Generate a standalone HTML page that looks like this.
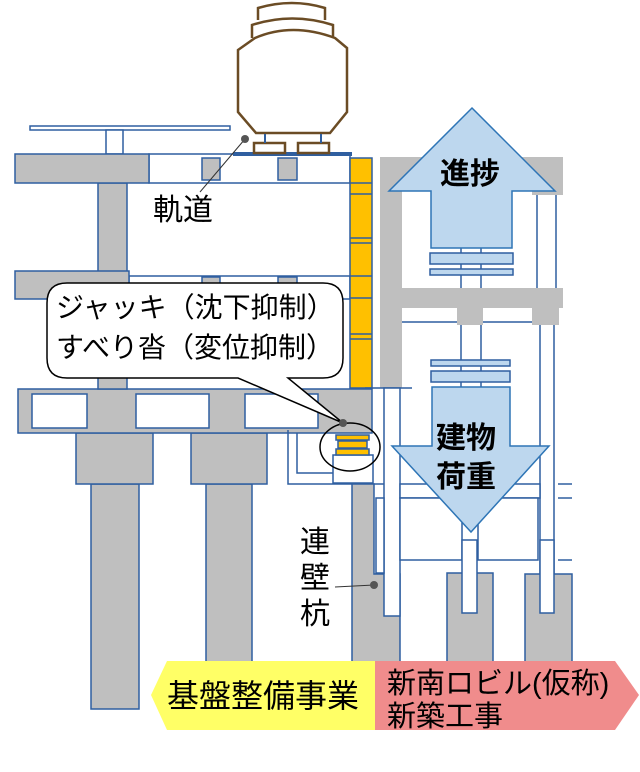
<!DOCTYPE html>
<html><head><meta charset="utf-8"><style>
html,body{margin:0;padding:0;background:#fff;}
svg{display:block;}
text{font-family:"Liberation Sans","Noto Sans CJK JP",sans-serif;fill:#000;}
</style></head><body>
<svg width="640" height="772" viewBox="0 0 640 772" xmlns="http://www.w3.org/2000/svg">
<g stroke="#2f5fa0" stroke-width="1.5">
<rect x="91" y="484" width="48" height="225" fill="#bfbfbf"/>
<rect x="206" y="484" width="46" height="178" fill="#bfbfbf"/>
<rect x="76" y="433" width="77" height="51" fill="#bfbfbf"/>
<rect x="191" y="433" width="76" height="51" fill="#bfbfbf"/>
<rect x="18" y="389" width="354" height="44" fill="#bfbfbf"/>
<rect x="32" y="394" width="55" height="34" fill="#fff"/>
<rect x="136" y="394" width="73" height="34" fill="#fff"/>
<rect x="245" y="394" width="73" height="34" fill="#fff"/>
<rect x="98" y="183" width="29" height="206" fill="#bfbfbf"/>
<rect x="30" y="126" width="200" height="4" fill="#fff"/>
<rect x="106" y="130" width="17" height="24" fill="#fff"/>
<rect x="149" y="154" width="201" height="29" fill="#fff"/>
<rect x="202" y="158" width="18" height="22" fill="#bfbfbf"/>
<rect x="278" y="158" width="19" height="22" fill="#bfbfbf"/>
<rect x="15" y="154" width="134" height="29" fill="#bfbfbf"/>
<rect x="129" y="276" width="221" height="23" fill="#fff"/>
<rect x="202" y="277" width="18" height="10" fill="#bfbfbf"/>
<rect x="278" y="277" width="19" height="10" fill="#bfbfbf"/>
<rect x="15" y="271" width="114" height="28" fill="#bfbfbf"/>
<rect x="350" y="158" width="22" height="230" fill="#ffc000"/>
<line x1="350" y1="183" x2="372" y2="183"/><line x1="350" y1="194" x2="372" y2="194"/>
<line x1="350" y1="238" x2="372" y2="238"/><line x1="350" y1="243" x2="372" y2="243"/>
<line x1="350" y1="276" x2="372" y2="276"/><line x1="350" y1="298" x2="372" y2="298"/>
<line x1="350" y1="334" x2="372" y2="334"/><line x1="350" y1="339" x2="372" y2="339"/>
<line x1="233" y1="154" x2="352" y2="154" stroke-width="4"/>
<polyline points="288,430 288,484 400,484" fill="none"/>
<polyline points="297,433 297,473 333,473" fill="none"/>
<rect x="333" y="455" width="40" height="28" fill="#fff"/>
<rect x="380" y="157" width="22" height="231" fill="#bfbfbf" stroke="none"/>
<rect x="380" y="157" width="183" height="20" fill="#bfbfbf" stroke="none"/>
<rect x="532" y="157" width="31" height="38" fill="#bfbfbf" stroke="none"/>
<rect x="402" y="288" width="161" height="20" fill="#bfbfbf" stroke="none"/>
<rect x="457" y="300" width="26" height="25" fill="#bfbfbf" stroke="none"/>
<rect x="532" y="300" width="27" height="25" fill="#bfbfbf" stroke="none"/>
<line x1="402" y1="322" x2="457" y2="322"/><line x1="483" y1="322" x2="532" y2="322"/>
<line x1="537" y1="195" x2="537" y2="288"/><line x1="556" y1="195" x2="556" y2="288"/>
<line x1="461" y1="248" x2="461" y2="288"/><line x1="481" y1="248" x2="481" y2="288"/>
<line x1="461" y1="325" x2="461" y2="387"/><line x1="481" y1="325" x2="481" y2="387"/>
<line x1="540" y1="325" x2="540" y2="575"/><line x1="554" y1="325" x2="554" y2="575"/>
<line x1="365" y1="388" x2="412" y2="388"/>
<path d="M352,484 H374 V574 H400 V662 H352 Z" fill="#bfbfbf"/>
<rect x="384" y="388" width="16" height="228" fill="#fff"/>
<rect x="376" y="498" width="8" height="75" fill="#fff"/>
<rect x="400" y="484" width="140" height="14" fill="#fff"/>
<rect x="400" y="498" width="62" height="62" fill="#fff"/>
<rect x="478" y="498" width="60" height="62" fill="#fff"/>
<line x1="558" y1="484" x2="572" y2="484"/><line x1="558" y1="498" x2="572" y2="498"/><line x1="558" y1="560" x2="572" y2="560"/>
<rect x="447" y="573" width="46" height="90" fill="#bfbfbf"/>
<rect x="462" y="540" width="15" height="73" fill="#fff"/>
<rect x="525" y="574" width="47" height="89" fill="#bfbfbf"/>
<rect x="540" y="540" width="14" height="73" fill="#fff"/>
<rect x="430" y="253" width="83" height="11" fill="#bdd7ee"/>
<rect x="430" y="269" width="83" height="6" fill="#bdd7ee"/>
<rect x="431" y="360" width="79" height="6" fill="#bdd7ee"/>
<rect x="431" y="371" width="79" height="11" fill="#bdd7ee"/>
</g>
<polygon points="472,108 555,191 512,191 512,248 431,248 431,191 389,191" fill="#bdd7ee" stroke="#2e75b6" stroke-width="1.5"/>
<polygon points="432,387 510,387 510,446 549,446 471,532 392,446 432,446" fill="#bdd7ee" stroke="#2e75b6" stroke-width="1.5"/>
<g stroke="#2f5fa0" stroke-width="1.5">
<rect x="336" y="435" width="33" height="5" fill="#ffc000"/>
<rect x="338" y="441" width="29" height="7" fill="#ffc000"/>
<rect x="336" y="449" width="33" height="6" fill="#ffc000"/>
</g>
<ellipse cx="350" cy="447" rx="30" ry="24" fill="none" stroke="#000" stroke-width="1.5"/>
<g fill="#fff" stroke="#6b4c25" stroke-width="2.5">
<path d="M258,20 V8 Q292,-2 325,8 V20"/>
<path d="M252,38 V25 Q292,12 333,25 V38"/>
<path d="M238,50 L255,38 Q292,22 335,38 L347,48 V112 L330,133 H256 L238,112 Z"/>
<rect x="254" y="143" width="31" height="10"/>
<rect x="298" y="143" width="31" height="10"/>
</g>
<line x1="265" y1="134" x2="265" y2="143" stroke="#2f5fa0" stroke-width="2"/>
<line x1="321" y1="134" x2="321" y2="143" stroke="#2f5fa0" stroke-width="2"/>
<path d="M67,283 H323 Q343,283 343,303 V358 Q343,378 323,378 H288 L343,423 L238,378 H67 Q47,378 47,358 V303 Q47,283 67,283 Z" fill="#fff" stroke="#000" stroke-width="1.5"/>
<circle cx="343" cy="423" r="4" fill="#555"/>
<line x1="245" y1="139" x2="200" y2="192" stroke="#333" stroke-width="1"/>
<circle cx="245" cy="139" r="4" fill="#555"/>
<line x1="335" y1="587" x2="374" y2="585" stroke="#333" stroke-width="1"/>
<circle cx="374" cy="585" r="4" fill="#555"/>
<polygon points="151,695 167,661 375,661 375,730 167,730" fill="#ffff66"/>
<polygon points="375,661 615,661 639,695 615,730 375,730" fill="#f08c8c"/>
<text x="153" y="220" font-size="30">軌道</text>
<text x="56" y="317" font-size="28">ジャッキ（沈下抑制）</text>
<text x="56" y="357" font-size="28">すべり沓（変位抑制）</text>
<text x="440" y="184" font-size="30" font-weight="bold">進捗</text>
<text x="436" y="448" font-size="30" font-weight="bold">建物</text>
<text x="436" y="487" font-size="30" font-weight="bold">荷重</text>
<text x="300" y="552" font-size="30">連</text>
<text x="300" y="588" font-size="30">壁</text>
<text x="300" y="624" font-size="30">杭</text>
<text x="167" y="707" font-size="32">基盤整備事業</text>
<text x="387" y="693" font-size="29">新南ロビル(仮称)</text>
<text x="387" y="726" font-size="29">新築工事</text>
</svg>
</body></html>
